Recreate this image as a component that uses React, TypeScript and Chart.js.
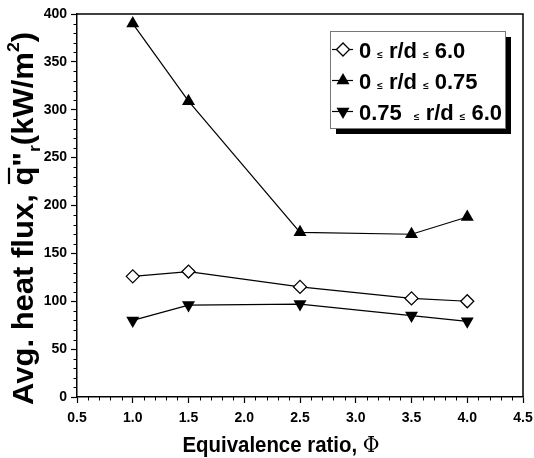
import React, { useEffect, useRef } from "react";
import { Chart, registerables } from "chart.js";
Chart.register(...registerables);

const phi = [1.0, 1.5, 2.5, 3.5, 4.0];
const fluxAll = [126, 131, 115, 103, 100];
const fluxInner = [390, 309, 172, 170, 188];
const fluxOuter = [80, 96, 97, 85, 79];
const seriesLabels = ["0 ≤ r/d ≤ 6.0", "0 ≤ r/d ≤ 0.75", "0.75  ≤ r/d ≤ 6.0"];
const xTitleText = "Equivalence ratio, ";
const xTitleSymbol = "Φ";
const yTitleParts = ["Avg. heat flux, ", "q", "\"", "r", "(kW/m", "2", ")"];

const FONT = "Arial, 'Liberation Sans', sans-serif";

function drawMarker(ctx: CanvasRenderingContext2D, kind: number, x: number, y: number) {
  ctx.save();
  ctx.lineWidth = 1.3;
  ctx.strokeStyle = "#000";
  ctx.beginPath();
  if (kind === 0) {
    const r = 6.5;
    ctx.moveTo(x - r, y);
    ctx.lineTo(x, y - r);
    ctx.lineTo(x + r, y);
    ctx.lineTo(x, y + r);
    ctx.closePath();
    ctx.fillStyle = "#fff";
    ctx.fill();
    ctx.stroke();
  } else {
    const r = 7.5;
    const s = kind === 1 ? 1 : -1;
    ctx.moveTo(x, y - s * r);
    ctx.lineTo(x + r * 0.866, y + s * r / 2);
    ctx.lineTo(x - r * 0.866, y + s * r / 2);
    ctx.closePath();
    ctx.fillStyle = "#000";
    ctx.fill();
  }
  ctx.restore();
}

const decor = {
  id: "decor",
  afterDraw(chart: any) {
    const { ctx, chartArea: a, scales } = chart;
    const xs = scales.x;
    const ys = scales.y;
    ctx.save();
    // frame top & right
    ctx.strokeStyle = "#000";
    ctx.lineWidth = 1.5;
    ctx.beginPath();
    ctx.moveTo(a.left, a.top);
    ctx.lineTo(a.right, a.top);
    ctx.lineTo(a.right, a.bottom);
    ctx.stroke();
    // minor ticks
    ctx.lineWidth = 1;
    ctx.beginPath();
    for (let i = 5; i <= 45; i++) {
      if (i % 5 === 0) continue;
      const px = Math.round(xs.getPixelForValue(i / 10)) + 0.5;
      ctx.moveTo(px, a.bottom);
      ctx.lineTo(px, a.bottom + 3.5);
    }
    for (let v = 0; v <= 400; v += 10) {
      if (v % 50 === 0) continue;
      const py = Math.round(ys.getPixelForValue(v)) + 0.5;
      ctx.moveTo(a.left, py);
      ctx.lineTo(a.left - 3.5, py);
    }
    ctx.stroke();

    // x title (condensed bold, target width ~197px)
    ctx.fillStyle = "#000";
    ctx.textBaseline = "alphabetic";
    ctx.font = `bold 22px ${FONT}`;
    const w1 = ctx.measureText(xTitleText).width;
    ctx.font = `22px 'DejaVu Serif', serif`;
    const w2 = ctx.measureText(xTitleSymbol).width;
    const xsc = 197 / (w1 + w2);
    ctx.save();
    ctx.translate((a.left + a.right) / 2 - 19, 451.5);
    ctx.scale(xsc, 1);
    const sx = -(w1 + w2) / 2;
    ctx.font = `bold 22px ${FONT}`;
    ctx.fillText(xTitleText, sx, 0);
    ctx.font = `22px 'DejaVu Serif', serif`;
    ctx.fillText(xTitleSymbol, sx + w1, 0);
    ctx.restore();

    // y title
    const big = `bold 30px ${FONT}`;
    const small = `bold 17px ${FONT}`;
    const fonts = [big, big, big, small, big, small, big];
    const offs = [0, 0, 0, 7, 0, -14, 0];
    let total = 0;
    const widths: number[] = [];
    yTitleParts.forEach((p, i) => {
      ctx.font = fonts[i];
      const w = ctx.measureText(p).width;
      widths.push(w);
      total += w;
    });
    ctx.save();
    ctx.translate(33, 218.5);
    ctx.rotate(-Math.PI / 2);
    ctx.scale(373 / total, 1);
    let tx = -total / 2;
    yTitleParts.forEach((p, i) => {
      ctx.font = fonts[i];
      ctx.fillText(p, tx, offs[i]);
      if (i === 1) {
        ctx.lineWidth = 2.2;
        ctx.beginPath();
        ctx.moveTo(tx + 1.5, -24);
        ctx.lineTo(tx + widths[i] - 1, -24);
        ctx.stroke();
      }
      tx += widths[i];
    });
    ctx.restore();

    // legend
    const lx = a.right - 193;
    const ly = a.top + 17;
    const lw = 175;
    const lh = 97;
    ctx.fillStyle = "#000";
    ctx.fillRect(lx + 6, ly + 6, lw, lh);
    ctx.fillStyle = "#fff";
    ctx.fillRect(lx, ly, lw, lh);
    ctx.strokeStyle = "#777";
    ctx.lineWidth = 1;
    ctx.strokeRect(lx + 0.5, ly + 0.5, lw, lh);
    chart.data.datasets.forEach((ds: any, i: number) => {
      const cy = ly + 18.5 + i * 31;
      ctx.strokeStyle = "#000";
      ctx.lineWidth = 1.2;
      ctx.beginPath();
      ctx.moveTo(lx + 2, cy);
      ctx.lineTo(lx + 23, cy);
      ctx.stroke();
      drawMarker(ctx, i, lx + 13, cy);
      const segs = String(ds.label).split("≤");
      let px = lx + 29;
      const base = cy + 8;
      segs.forEach((s: string, j: number) => {
        ctx.fillStyle = "#000";
        ctx.font = `bold 22px ${FONT}`;
        ctx.fillText(s, px, base);
        px += ctx.measureText(s).width;
        if (j < segs.length - 1) {
          ctx.font = `bold 10px ${FONT}`;
          ctx.fillText("≤", px, base);
          px += ctx.measureText("≤").width;
        }
      });
    });
    ctx.restore();
  },
};

export default function App() {
  const ref = useRef<HTMLCanvasElement>(null);
  useEffect(() => {
    const toPts = (ys: number[]) => phi.map((p, i) => ({ x: p, y: ys[i] }));
    const common = {
      borderColor: "#000",
      borderWidth: 1.2,
      pointBorderColor: "#000",
      pointBorderWidth: 1.3,
      tension: 0,
    };
    const chart = new Chart(ref.current!, {
      type: "line",
      data: {
        datasets: [
          {
            ...common,
            label: seriesLabels[0],
            data: toPts(fluxAll),
            pointStyle: "rectRot",
            pointRadius: 6.5,
            pointBackgroundColor: "#fff",
          },
          {
            ...common,
            label: seriesLabels[1],
            data: toPts(fluxInner),
            pointStyle: "triangle",
            pointRadius: 7.5,
            pointBorderWidth: 0,
            pointBackgroundColor: "#000",
          },
          {
            ...common,
            label: seriesLabels[2],
            data: toPts(fluxOuter),
            pointStyle: "triangle",
            pointRotation: 180,
            pointRadius: 7.5,
            pointBorderWidth: 0,
            pointBackgroundColor: "#000",
          },
        ] as any,
      },
      options: {
        animation: false,
        responsive: false,
        events: [],
        layout: { padding: { left: 0, top: 14, right: 11, bottom: 0 } },
        plugins: { legend: { display: false }, tooltip: { enabled: false } },
        scales: {
          x: {
            type: "linear",
            min: 0.5,
            max: 4.5,
            ticks: {
              stepSize: 0.5,
              autoSkip: false,
              maxRotation: 0,
              color: "#000",
              padding: 7,
              font: { family: FONT, size: 14, weight: "bold" },
              callback: (v: any) => Number(v).toFixed(1),
            },
            grid: { drawOnChartArea: false, tickLength: 6, tickColor: "#000", tickWidth: 1.2 },
            border: { color: "#000", width: 1.5 },
            afterFit: (s: any) => {
              s.height = 61;
              s.paddingLeft = 0;
              s.paddingRight = 0;
            },
          },
          y: {
            type: "linear",
            min: 0,
            max: 400,
            ticks: {
              stepSize: 50,
              color: "#000",
              padding: 4,
              font: { family: FONT, size: 14, weight: "bold" },
            },
            grid: { drawOnChartArea: false, tickLength: 6, tickColor: "#000", tickWidth: 1.2 },
            border: { color: "#000", width: 1.5 },
            afterFit: (s: any) => {
              s.width = 77;
              s.paddingTop = 0;
              s.paddingBottom = 0;
            },
          },
        },
      } as any,
      plugins: [decor],
    });
    return () => chart.destroy();
  }, []);
  return (
    <div style={{ position: "absolute", left: 0, top: 0, width: 534, height: 458, background: "#fff" }}>
      <canvas ref={ref} width={534} height={458} />
    </div>
  );
}
